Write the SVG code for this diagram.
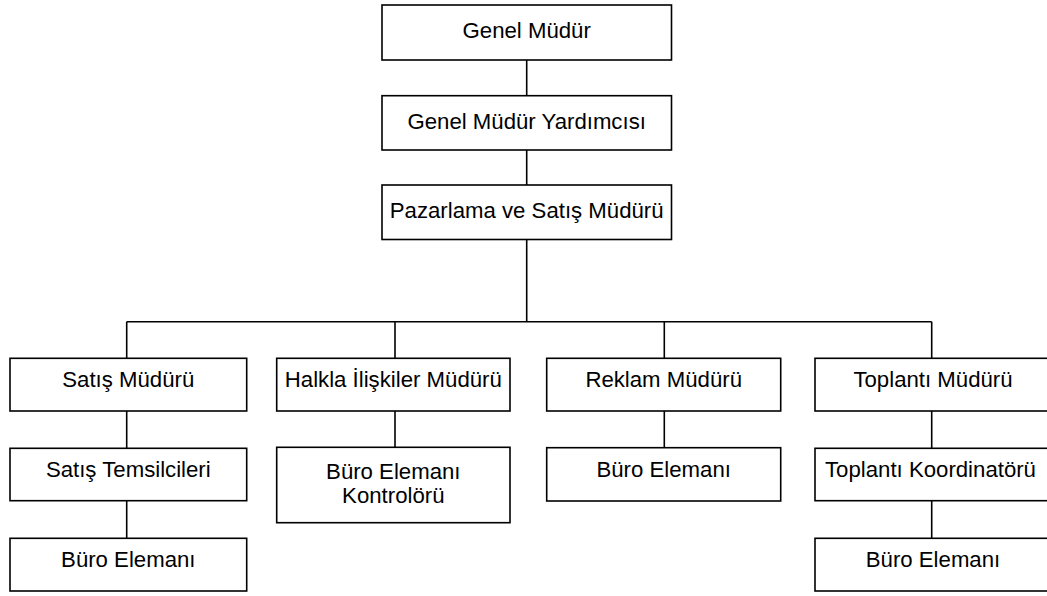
<svg xmlns="http://www.w3.org/2000/svg" width="1047" height="596" viewBox="0 0 1047 596">
<style>
rect{fill:#fff;stroke:#000;stroke-width:1.6}
.c line,.c polyline{stroke:#000;stroke-width:1.6;fill:none}
text{font-family:"Liberation Sans",Arial,sans-serif;font-size:22.2px;fill:#000;text-anchor:middle}
</style>
<rect x="0" y="0" width="1047" height="596" style="stroke:none"/>
<g class="c" id="connectors">
<line x1="526.7" y1="60" x2="526.7" y2="95.7"/>
<line x1="526.7" y1="150" x2="526.7" y2="185"/>
<line x1="526.7" y1="239.5" x2="526.7" y2="321.7"/>
<line x1="126.7" y1="321.7" x2="931.7" y2="321.7"/>
<line x1="126.7" y1="321.7" x2="126.7" y2="358.3"/>
<line x1="395" y1="321.7" x2="395" y2="358.3"/>
<line x1="664.3" y1="321.7" x2="664.3" y2="358.3"/>
<line x1="931.7" y1="321.7" x2="931.7" y2="358.3"/>
<line x1="126.7" y1="411" x2="126.7" y2="448.3"/>
<line x1="126.7" y1="500.7" x2="126.7" y2="538.3"/>
<line x1="395" y1="411" x2="395" y2="447.3"/>
<line x1="664.3" y1="411" x2="664.3" y2="447.7"/>
<line x1="931.7" y1="411" x2="931.7" y2="448.3"/>
<line x1="931.7" y1="500.7" x2="931.7" y2="538.3"/>
</g>
<g id="genel-mudur"><rect x="382" y="5" width="289.5" height="55"/><text x="526.7" y="37.9">Genel Müdür</text></g>
<g id="genel-mudur-yardimcisi"><rect x="382" y="95.7" width="289.5" height="54.3"/><text x="526.7" y="128.6">Genel Müdür Yardımcısı</text></g>
<g id="pazarlama"><rect x="382" y="185" width="289.5" height="54.5"/><text x="526.7" y="217.5">Pazarlama ve Satış Müdürü</text></g>
<g id="satis-muduru"><rect x="10" y="358.3" width="236.7" height="52.7"/><text x="128.3" y="386.9">Satış Müdürü</text></g>
<g id="satis-temsilcileri"><rect x="10" y="448.3" width="236.7" height="52.4"/><text x="128.3" y="476.9">Satış Temsilcileri</text></g>
<g id="satis-buro"><rect x="10" y="538.3" width="236.7" height="52.7"/><text x="128.3" y="566.9">Büro Elemanı</text></g>
<g id="halkla"><rect x="276.7" y="358.3" width="233.3" height="52.7"/><text x="393.3" y="386.9">Halkla İlişkiler Müdürü</text></g>
<g id="halkla-buro"><rect x="276.7" y="447.3" width="233.3" height="75.4"/><text x="393.3" y="478.5">Büro Elemanı</text><text x="393.3" y="502.9">Kontrolörü</text></g>
<g id="reklam"><rect x="546.7" y="358.3" width="234" height="52.7"/><text x="663.7" y="386.9">Reklam Müdürü</text></g>
<g id="reklam-buro"><rect x="546.7" y="447.7" width="234" height="53.3"/><text x="663.7" y="476.9">Büro Elemanı</text></g>
<g id="toplanti"><rect x="815" y="358.3" width="236" height="52.7"/><text x="933" y="386.9">Toplantı Müdürü</text></g>
<g id="toplanti-koordinatoru"><rect x="815" y="448.3" width="236" height="52.4"/><text x="930.5" y="476.9">Toplantı Koordinatörü</text></g>
<g id="toplanti-buro"><rect x="815" y="538.3" width="236" height="52.7"/><text x="933" y="566.9">Büro Elemanı</text></g>
</svg>
